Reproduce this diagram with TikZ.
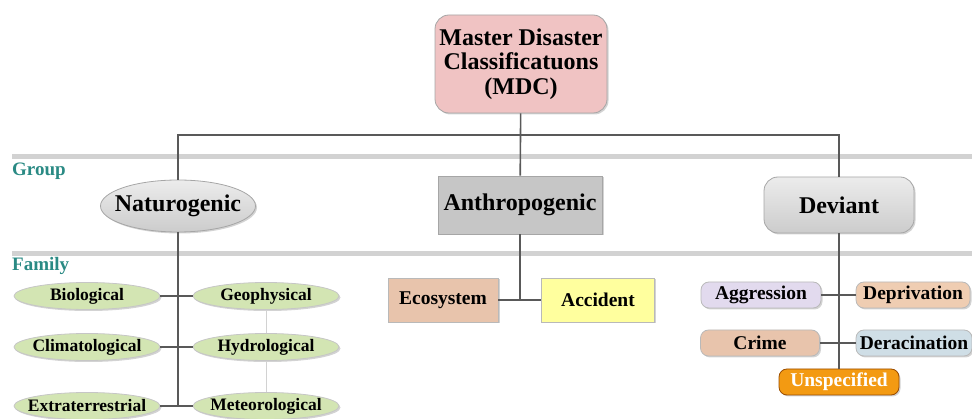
\documentclass[tikz,border=0pt]{standalone}
\usepackage{fontspec}
\setmainfont{Liberation Serif}
\usetikzlibrary{shapes.geometric, shadows}
\definecolor{mdcpink}{HTML}{F0C3C3}
\definecolor{tagteal}{HTML}{2A8A84}
\definecolor{natgreen}{HTML}{D3E5B3}
\definecolor{ecotan}{HTML}{E8C4AC}
\definecolor{accyellow}{HTML}{FFFF9E}
\definecolor{agglav}{HTML}{E2DAEE}
\definecolor{depeach}{HTML}{EFCDB2}
\definecolor{derblue}{HTML}{CFDEE6}
\definecolor{unsorange}{HTML}{F39A12}
\tikzset{
    box/.style={draw=gray!70, thick, align=center, inner sep=0pt, text=black,
        drop shadow={shadow xshift=1.5pt, shadow yshift=-1.5pt, opacity=0.35}},
    bigbox/.style={box, font=\bfseries\fontsize{24}{24.5}\selectfont},
    natfam/.style={box, font=\bfseries\fontsize{17.5}{19}\selectfont, ellipse, inner xsep=-8pt, fill=natgreen, draw=gray!45, minimum width=146pt, minimum height=27pt},
    devfam/.style={box, font=\bfseries\fontsize{19.5}{21}\selectfont, rounded corners=8pt, minimum height=26pt, draw=gray!55},
    anfam/.style={box, font=\bfseries\fontsize{19.5}{21}\selectfont, minimum height=44pt, draw=gray!55},
    grouptag/.style={font=\bfseries\fontsize{19}{21}\selectfont, text=tagteal, anchor=west, inner sep=0pt},
    band/.style={line width=5pt, gray!35},
    link/.style={draw=black!65, line width=1.6pt},
    faint/.style={draw=gray!35, line width=0.8pt}
}
\begin{document}
\begin{tikzpicture}[x=1pt, y=-1pt]
    \useasboundingbox (0,0) rectangle (972,419);
    % bands between the levels
    \draw[band] (12,157) -- (972,157);
    \draw[band] (12,254) -- (972,254);
    \node[grouptag] (grouptxt) at (12,171) {Group};
    \node[grouptag] (familytxt) at (12,266) {Family};

    % top and groups
    \node[bigbox, fill=mdcpink, rounded corners=14pt, minimum width=172pt, minimum height=98pt] (mdc) at (521,64)
        {Master Disaster\\Classificatuons\\(MDC)};
    \node[bigbox, ellipse, inner xsep=-9pt, top color=gray!15, bottom color=gray!40, minimum width=155pt, minimum height=52pt] (nat) at (178,206) {Naturogenic};
    \node[bigbox, fill=gray!45, minimum width=164pt, minimum height=58pt] (anth) at (520,205) {Anthropogenic};
    \node[bigbox, rounded corners=14pt, top color=gray!15, bottom color=gray!40, minimum width=150pt, minimum height=56pt] (dev) at (839,205) {Deviant};
    \coordinate (hub) at (521,135);

    % naturogenic families
    \node[natfam] (bio) at (87,296) {Biological};
    \node[natfam] (geo) at (266,296) {Geophysical};
    \node[natfam] (cli) at (87,347) {Climatological};
    \node[natfam] (hyd) at (266,347) {Hydrological};
    \node[natfam] (ext) at (87,406) {Extraterrestrial};
    \node[natfam] (met) at (266,406) {Meteorological};

    % anthropogenic families
    \node[anfam, fill=ecotan, minimum width=110pt] (eco) at (443,300) {Ecosystem};
    \node[anfam, fill=accyellow, minimum width=113pt] (acc) at (598,300) {Accident};

    % deviant families
    \node[devfam, fill=agglav, minimum width=120pt] (agg) at (761,295) {Aggression};
    \node[devfam, fill=depeach, minimum width=114pt] (dep) at (913,295) {Deprivation};
    \node[devfam, fill=ecotan, minimum width=119pt] (cri) at (760,343) {Crime};
    \node[devfam, fill=derblue, minimum width=116pt] (der) at (914,343) {Deracination};
    \node[devfam, fill=unsorange, draw=orange!60!black, text=white, minimum width=120pt] (uns) at (839,382) {Unspecified};

    % connectors
    \draw[link] (mdc) -- (anth);
    \draw[link] (nat.north) -- (nat.north |- hub) -- (dev.north |- hub) -- (dev.north);
    \draw[link] (nat.south) -- (nat.south |- ext.east);
    \draw[link] (bio.east) -- (geo.west);
    \draw[link] (cli.east) -- (hyd.west);
    \draw[link] (ext.east) -- (met.west);
    \draw[faint] (geo.south) -- (hyd.north);
    \draw[faint] (hyd.south) -- (met.north);
    \draw[link] (anth.south) -- (anth.south |- eco.east);
    \draw[link] (eco.east) -- (acc.west);
    \draw[link] (dev.south) -- (uns.north);
    \draw[link] (agg.east) -- (dep.west);
    \draw[link] (cri.east) -- (der.west);
\end{tikzpicture}
\end{document}
